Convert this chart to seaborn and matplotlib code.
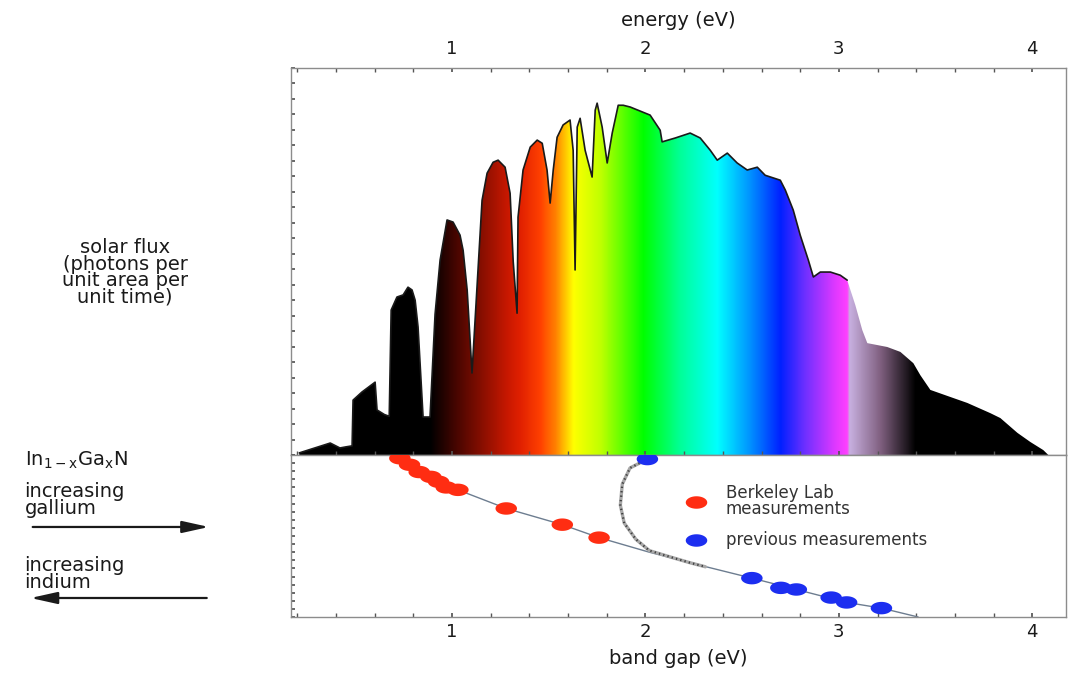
import matplotlib
matplotlib.use("Agg")
import matplotlib.pyplot as plt
from matplotlib.colors import LinearSegmentedColormap
from matplotlib.markers import MarkerStyle
from matplotlib.path import Path
from matplotlib.patches import FancyArrowPatch
from matplotlib.lines import Line2D
from matplotlib.ticker import MultipleLocator
import seaborn as sns
import numpy as np

sns.set_theme(style="white")
plt.rcParams["font.family"] = ["DejaVu Sans"]

# --- solar spectrum: photon energy (eV) vs relative photon flux ---
energy = [0.21, 0.37, 0.42, 0.45, 0.483, 0.488, 0.534, 0.602, 0.612, 0.65, 0.675,
          0.685, 0.715, 0.747, 0.772, 0.793, 0.809, 0.824, 0.850, 0.886, 0.912,
          0.938, 0.974, 1.005, 1.041, 1.057, 1.078, 1.103, 1.155, 1.181, 1.212,
          1.238, 1.274, 1.300, 1.316, 1.336, 1.341, 1.367, 1.404, 1.440, 1.466,
          1.491, 1.507, 1.523, 1.543, 1.574, 1.610, 1.626, 1.636, 1.647, 1.662,
          1.688, 1.724, 1.740, 1.750, 1.776, 1.802, 1.828, 1.859, 1.885, 1.921,
          2.024, 2.076, 2.086, 2.154, 2.231, 2.283, 2.335, 2.371, 2.423, 2.474,
          2.526, 2.578, 2.619, 2.697, 2.723, 2.764, 2.800, 2.842, 2.868, 2.904,
          2.956, 3.007, 3.043, 3.085, 3.121, 3.147, 3.250, 3.318, 3.385, 3.421,
          3.473, 3.576, 3.664, 3.783, 3.835, 3.923, 3.990, 4.057, 4.083]
flux = [0.6, 3.4, 2.0, 2.3, 2.6, 15.6, 17.9, 20.7, 12.8, 11.5, 11.0,
        41.2, 44.9, 45.5, 47.7, 46.9, 44.0, 36.4, 10.8, 10.8, 40.0,
        55.4, 66.8, 66.2, 62.5, 58.2, 46.9, 23.3, 72.4, 80.1, 83.2,
        83.8, 81.8, 74.4, 55.0, 40.3, 67.6, 81.0, 87.5, 89.5, 88.6,
        81.0, 71.6, 81.0, 90.3, 93.8, 95.2, 86.6, 52.6, 93.2, 95.7,
        86.6, 79.0, 98.0, 100.0, 93.2, 83.0, 91.5, 99.4, 99.4, 98.9,
        96.6, 92.3, 89.0, 90.1, 91.5, 90.1, 86.6, 83.8, 85.8, 83.0,
        81.0, 81.8, 79.5, 78.1, 75.3, 69.6, 62.5, 55.4, 50.6, 52.0,
        52.0, 51.1, 49.7, 42.6, 35.5, 31.8, 30.7, 29.3, 26.1, 22.7,
        18.5, 16.5, 14.8, 11.9, 10.5, 6.3, 3.7, 1.4, 0.0]

# colour of the light at a given photon energy
band_energy = [0.886, 1.026, 1.285, 1.35, 1.455, 1.533, 1.626, 1.766, 1.988,
               2.18, 2.371, 2.542, 2.697, 2.826, 2.981, 3.043, 3.054, 3.214, 3.395]
band_color = ["#000000", "#4a0600", "#c81800", "#e02000", "#ff4000", "#ff8000",
              "#ffff00", "#c0ff00", "#00ff00", "#00ff99", "#00ffff", "#0090ff",
              "#0020ff", "#7030ff", "#e038ff", "#ff40ff", "#c8b0e0", "#806080",
              "#000000"]

# In(1-x)Ga(x)N band gap (eV) vs gallium fraction x
berkeley_gap = [0.73, 0.78, 0.83, 0.89, 0.93, 0.97, 1.03, 1.28, 1.57, 1.76]
berkeley_x = [0.02, 0.06, 0.105, 0.135, 0.165, 0.20, 0.215, 0.33, 0.43, 0.51]
previous_gap = [2.01, 2.55, 2.70, 2.78, 2.96, 3.04, 3.22]
previous_x = [0.025, 0.76, 0.82, 0.83, 0.88, 0.91, 0.945]
fit_gap = [0.72, 0.83, 1.03, 1.28, 1.57, 1.76, 2.02, 2.23, 2.55, 2.78, 3.04, 3.22, 3.41]
fit_x = [0.0, 0.10, 0.215, 0.33, 0.43, 0.51, 0.60, 0.665, 0.76, 0.83, 0.91, 0.945, 1.0]
old_gap = [2.01, 1.92, 1.88, 1.87, 1.89, 1.95, 2.02, 2.13, 2.23, 2.31]
old_x = [0.025, 0.08, 0.18, 0.31, 0.42, 0.52, 0.59, 0.63, 0.665, 0.69]

X_MIN, X_MAX = 0.167, 4.176
Y_MAX = 110
RED = "#ff2d12"
BLUE = "#1c2ef0"
SPINE = "#8c8c8c"
INK = "#1a1a1a"

# ellipse marker (the original dots are wider than tall)
t = np.linspace(0, 2 * np.pi, 40)
ellipse = MarkerStyle(Path(np.column_stack([np.cos(t), 0.58 * np.sin(t)])))

fig = plt.figure(figsize=(10.69, 6.77), dpi=100)
ax1 = fig.add_axes([0.2722, 0.3279, 0.7253, 0.5717])
ax2 = fig.add_axes([0.2722, 0.0886, 0.7253, 0.2393], sharex=ax1)

# --- spectrum: rainbow gradient clipped to the flux curve ---
span = X_MAX - X_MIN
stops = [(0.0, "#000000")]
stops += [((e - X_MIN) / span, c) for e, c in zip(band_energy, band_color)]
stops += [(1.0, "#000000")]
cmap = LinearSegmentedColormap.from_list("light", stops, N=2048)

grad = np.linspace(X_MIN, X_MAX, 2000)[None, :]
im = ax1.imshow(grad, extent=[X_MIN, X_MAX, 0, Y_MAX], aspect="auto", cmap=cmap,
                vmin=X_MIN, vmax=X_MAX, origin="lower", interpolation="bilinear")
poly = ax1.fill_between(energy, flux, 0, facecolor="none", edgecolor="none")
im.set_clip_path(poly.get_paths()[0], transform=ax1.transData)

edge_e = [e for e in energy if e <= 3.05]
edge_f = flux[:len(edge_e)]
sns.lineplot(x=edge_e, y=edge_f, ax=ax1, color="#1a1a1a", lw=1.2,
             sort=False, estimator=None)

ax1.set_xlim(X_MIN, X_MAX)
ax1.set_ylim(0, Y_MAX)
ax1.xaxis.set_major_locator(MultipleLocator(1))
ax1.xaxis.set_minor_locator(MultipleLocator(0.2))
ax1.yaxis.set_major_locator(MultipleLocator(4.4))
ax1.tick_params(axis="x", which="both", direction="in", top=True, bottom=True,
                labeltop=True, labelbottom=False, length=3, color="#555555",
                labelsize=13, pad=7)
ax1.tick_params(axis="y", which="both", direction="in", left=True, labelleft=False,
                length=3, color="#555555")
ax1.xaxis.set_label_position("top")
ax1.set_xlabel("energy (eV)", fontsize=14, labelpad=10, color=INK)
ax1.set_ylabel("")

# --- band gap panel ---
sns.lineplot(x=fit_gap, y=fit_x, ax=ax2, color="#6d7d90", lw=1.0,
             sort=False, estimator=None)
sns.lineplot(x=old_gap, y=old_x, ax=ax2, color="#a8a8a8", lw=2.4,
             sort=False, estimator=None)
sns.lineplot(x=old_gap, y=old_x, ax=ax2, color="#404040", lw=1.6,
             sort=False, estimator=None, linestyle=(0, (0.6, 1.4)))
sns.scatterplot(x=berkeley_gap, y=berkeley_x, ax=ax2, marker=ellipse, s=240,
                color=RED, edgecolor="none", zorder=4)
sns.scatterplot(x=previous_gap, y=previous_x, ax=ax2, marker=ellipse, s=240,
                color=BLUE, edgecolor="none", zorder=4)

ax2.set_xlim(X_MIN, X_MAX)
ax2.set_ylim(1.0, 0.0)
ax2.xaxis.set_major_locator(MultipleLocator(1))
ax2.xaxis.set_minor_locator(MultipleLocator(0.2))
ax2.yaxis.set_major_locator(MultipleLocator(0.05))
ax2.tick_params(axis="x", which="both", direction="in", bottom=True, length=3,
                color="#555555", labelsize=13, pad=4)
ax2.tick_params(axis="y", which="both", direction="in", left=True, labelleft=False,
                length=3, color="#555555")
ax2.set_xlabel("band gap (eV)", fontsize=14, labelpad=6, color=INK)
ax2.set_ylabel("")

for ax in (ax1, ax2):
    for sp in ax.spines.values():
        sp.set_visible(True)
        sp.set_color(SPINE)
        sp.set_linewidth(1.0)
    for lab in ax.get_xticklabels():
        lab.set_color(INK)

handles = [Line2D([], [], marker=ellipse, ls="none", markersize=15.5, color=RED,
                  markeredgewidth=0),
           Line2D([], [], marker=ellipse, ls="none", markersize=15.5, color=BLUE,
                  markeredgewidth=0)]
leg = ax2.legend(handles, ["Berkeley Lab\nmeasurements", "previous measurements"],
                 loc="upper left", bbox_to_anchor=(0.621, 0.307),
                 bbox_transform=fig.transFigure, frameon=False, fontsize=12,
                 handletextpad=0.8, labelspacing=0.8, labelcolor="#333333")
leg.get_texts()[0].set_linespacing(0.85)

# --- left side annotations ---
fig.text(0.117, 0.598, "solar flux\n(photons per\nunit area per\nunit time)",
         ha="center", va="center", fontsize=14, linespacing=0.82, color=INK)
fig.text(0.023, 0.3205, r"In$_{\mathregular{1-x}}$Ga$_{\mathregular{x}}$N",
         ha="left", va="center", fontsize=14, color=INK)
fig.text(0.023, 0.2615, "increasing\ngallium", ha="left", va="center",
         fontsize=14, linespacing=0.82, color=INK)
fig.text(0.023, 0.152, "increasing\nindium", ha="left", va="center",
         fontsize=14, linespacing=0.82, color=INK)
arrow_style = "-|>,head_length=0.9,head_width=0.2"
fig.add_artist(FancyArrowPatch((0.028, 0.2216), (0.198, 0.2216),
                               transform=fig.transFigure, arrowstyle=arrow_style,
                               mutation_scale=18, lw=1.6, color=INK))
fig.add_artist(FancyArrowPatch((0.196, 0.1167), (0.026, 0.1167),
                               transform=fig.transFigure, arrowstyle=arrow_style,
                               mutation_scale=18, lw=1.6, color=INK))

fig.savefig("out.png", dpi=100, facecolor="white")
